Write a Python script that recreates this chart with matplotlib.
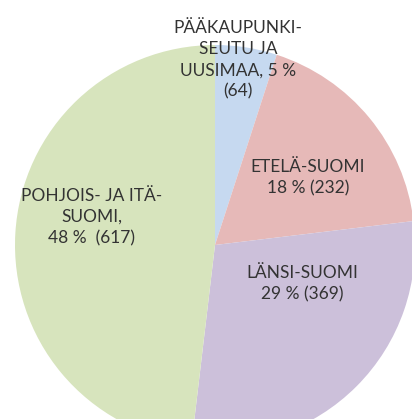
import matplotlib
matplotlib.use("Agg")
import matplotlib.pyplot as plt

# data
regions = ["PÄÄKAUPUNKI-\nSEUTU JA\nUUSIMAA,", "ETELÄ-SUOMI\n", "LÄNSI-SUOMI\n", "POHJOIS- JA ITÄ-\nSUOMI,\n"]
counts = [64, 232, 369, 617]
colors = ["#c6d9f0", "#e6b9b8", "#ccc0da", "#d7e4bd"]

total = sum(counts)
labels = []
for name, n in zip(regions, counts):
    pct = round(n / total * 100)
    if name.startswith("PÄÄ"):
        labels.append(f"{name} {pct} %\n({n})")
    elif name.startswith("POH"):
        labels.append(f"{name}{pct} %  ({n})")
    else:
        labels.append(f"{name}{pct} % ({n})")

# label centres (data units, pie radius = 1)
label_pos = [(0.115, 0.925), (0.465, 0.335), (0.435, -0.195), (-0.615, 0.14)]

plt.rcParams['font.family'] = ['Lato', 'DejaVu Sans']

fig = plt.figure(figsize=(4.12, 4.19), dpi=100)
ax = fig.add_axes([0, 0, 1, 1])
ax.pie(counts, colors=colors, startangle=90, counterclock=False,
       radius=1.0, wedgeprops=dict(linewidth=0))
for txt, (x, y) in zip(labels, label_pos):
    ax.text(x, y, txt, ha='center', va='center', fontsize=12.5,
            color='#333333', linespacing=1.4)

ax.set_xlim(-1.075, 0.985)
ax.set_ylim(-0.87, 1.225)
ax.set_aspect('auto')
ax.axis('off')

plt.savefig('out.png', dpi=100)
